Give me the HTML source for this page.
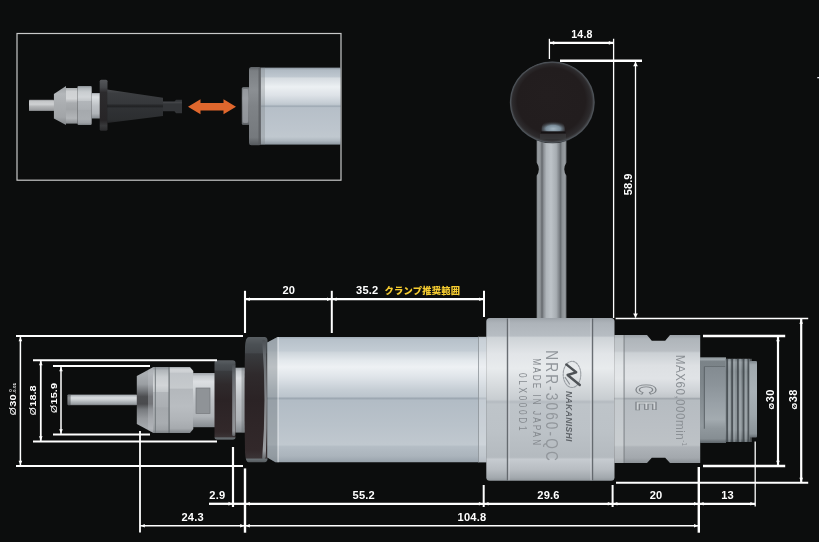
<!DOCTYPE html>
<html lang="ja"><head><meta charset="utf-8"><title>NRR-3060-QC</title>
<style>
html,body{margin:0;padding:0;background:#0c0d0d;overflow:hidden}
svg{display:block;will-change:transform}
text{font-family:"Liberation Sans","Noto Sans CJK JP",sans-serif}
</style></head><body>
<svg width="819" height="542" viewBox="0 0 819 542">
<defs>
<linearGradient id="gBody" x1="0" y1="0" x2="0" y2="1"><stop offset="0.0" stop-color="#a3adb7"/><stop offset="0.02" stop-color="#b7c1ca"/><stop offset="0.11" stop-color="#c3ccd4"/><stop offset="0.125" stop-color="#cfd6dc"/><stop offset="0.19" stop-color="#e4e9ed"/><stop offset="0.24" stop-color="#eef1f4"/><stop offset="0.32" stop-color="#dfe4e9"/><stop offset="0.42" stop-color="#c6ced5"/><stop offset="0.475" stop-color="#bcc5cd"/><stop offset="0.49" stop-color="#9ca7b1"/><stop offset="0.505" stop-color="#b2bcc5"/><stop offset="0.7" stop-color="#b9c2ca"/><stop offset="0.86" stop-color="#c0c8cf"/><stop offset="0.875" stop-color="#b4bdc5"/><stop offset="0.95" stop-color="#abb4bc"/><stop offset="1.0" stop-color="#98a2ab"/></linearGradient>
<linearGradient id="gBlock" x1="0" y1="0" x2="0" y2="1"><stop offset="0.0" stop-color="#9da3a9"/><stop offset="0.03" stop-color="#adb3b9"/><stop offset="0.11" stop-color="#b7bdc3"/><stop offset="0.12" stop-color="#ced3d7"/><stop offset="0.22" stop-color="#e2e5e8"/><stop offset="0.31" stop-color="#e8ebed"/><stop offset="0.42" stop-color="#d6dadd"/><stop offset="0.5" stop-color="#c8cdd1"/><stop offset="0.515" stop-color="#b4bac0"/><stop offset="0.53" stop-color="#bec4c9"/><stop offset="0.7" stop-color="#bcc2c7"/><stop offset="0.855" stop-color="#b4babf"/><stop offset="0.868" stop-color="#c6cbd0"/><stop offset="0.93" stop-color="#b8bdc2"/><stop offset="0.98" stop-color="#a3a9ae"/><stop offset="1.0" stop-color="#92989d"/></linearGradient>
<linearGradient id="gRear" x1="0" y1="0" x2="0" y2="1"><stop offset="0.0" stop-color="#9aa0a6"/><stop offset="0.03" stop-color="#afb5ba"/><stop offset="0.125" stop-color="#b9bec3"/><stop offset="0.14" stop-color="#cbd0d4"/><stop offset="0.24" stop-color="#dde0e3"/><stop offset="0.34" stop-color="#e0e3e6"/><stop offset="0.44" stop-color="#ced2d6"/><stop offset="0.485" stop-color="#c2c7cb"/><stop offset="0.497" stop-color="#a0a6ac"/><stop offset="0.51" stop-color="#b6bcc1"/><stop offset="0.7" stop-color="#babfc4"/><stop offset="0.86" stop-color="#bdc2c6"/><stop offset="0.875" stop-color="#aeb3b8"/><stop offset="0.96" stop-color="#a3a8ad"/><stop offset="1.0" stop-color="#8c9196"/></linearGradient>
<linearGradient id="gConn" x1="0" y1="0" x2="0" y2="1"><stop offset="0" stop-color="#8d959a"/><stop offset="0.025" stop-color="#9da5aa"/><stop offset="0.05" stop-color="#7b8388"/><stop offset="0.3" stop-color="#7e868b"/><stop offset="0.5" stop-color="#858d92"/><stop offset="0.8" stop-color="#929a9f"/><stop offset="0.95" stop-color="#868e93"/><stop offset="1" stop-color="#5e656a"/></linearGradient>
<linearGradient id="gThread" x1="0" y1="0" x2="0" y2="1"><stop offset="0" stop-color="#6e757a"/><stop offset="0.04" stop-color="#8b9398"/><stop offset="0.15" stop-color="#7a8287"/><stop offset="0.35" stop-color="#858d92"/><stop offset="0.55" stop-color="#8b9398"/><stop offset="0.85" stop-color="#8e969b"/><stop offset="0.96" stop-color="#747b80"/><stop offset="1" stop-color="#50575c"/></linearGradient>
<linearGradient id="gConnFlat" x1="0" y1="0" x2="0" y2="1"><stop offset="0" stop-color="#838b91"/><stop offset="0.3" stop-color="#8c949a"/><stop offset="0.6" stop-color="#99a1a7"/><stop offset="0.85" stop-color="#a3abb0"/><stop offset="1" stop-color="#8f979c"/></linearGradient>
<linearGradient id="gConnEnd" x1="0" y1="0" x2="0" y2="1"><stop offset="0" stop-color="#7d858a"/><stop offset="0.05" stop-color="#a1a9ae"/><stop offset="0.4" stop-color="#a9b1b6"/><stop offset="0.7" stop-color="#9ea6ab"/><stop offset="0.95" stop-color="#8b9398"/><stop offset="1" stop-color="#646b70"/></linearGradient>
<linearGradient id="gNut" x1="0" y1="0" x2="0" y2="1"><stop offset="0.0" stop-color="#8b9095"/><stop offset="0.05" stop-color="#b0b5b9"/><stop offset="0.15" stop-color="#c9cdd0"/><stop offset="0.28" stop-color="#d2d5d8"/><stop offset="0.38" stop-color="#c2c6c9"/><stop offset="0.385" stop-color="#b2b6ba"/><stop offset="0.6" stop-color="#abafb3"/><stop offset="0.62" stop-color="#a5a9ad"/><stop offset="0.85" stop-color="#a9adb1"/><stop offset="0.95" stop-color="#9da1a5"/><stop offset="1.0" stop-color="#7d8286"/></linearGradient>
<linearGradient id="gNutHex" x1="0" y1="0" x2="0" y2="1"><stop offset="0.0" stop-color="#9fa4a9"/><stop offset="0.03" stop-color="#d2d5d8"/><stop offset="0.08" stop-color="#cdd0d3"/><stop offset="0.09" stop-color="#c0c4c8"/><stop offset="0.32" stop-color="#c6cacd"/><stop offset="0.335" stop-color="#b4b8bc"/><stop offset="0.6" stop-color="#b9bdc1"/><stop offset="0.8" stop-color="#b0b4b8"/><stop offset="0.93" stop-color="#a6aaae"/><stop offset="1.0" stop-color="#80858a"/></linearGradient>
<linearGradient id="gCone" x1="0" y1="0" x2="0" y2="1"><stop offset="0.0" stop-color="#9a9ea2"/><stop offset="0.1" stop-color="#aaaeb2"/><stop offset="0.26" stop-color="#9b9fa3"/><stop offset="0.36" stop-color="#73767a"/><stop offset="0.45" stop-color="#4c4d50"/><stop offset="0.56" stop-color="#4a4b4e"/><stop offset="0.64" stop-color="#76797d"/><stop offset="0.78" stop-color="#96999d"/><stop offset="0.93" stop-color="#a6aaae"/><stop offset="1.0" stop-color="#8d9195"/></linearGradient>
<linearGradient id="gNeck" x1="0" y1="0" x2="0" y2="1"><stop offset="0.0" stop-color="#9ca1a6"/><stop offset="0.06" stop-color="#c6cace"/><stop offset="0.16" stop-color="#dcdfe2"/><stop offset="0.3" stop-color="#cfd3d6"/><stop offset="0.5" stop-color="#bdc1c5"/><stop offset="0.8" stop-color="#b0b4b8"/><stop offset="1.0" stop-color="#868b90"/></linearGradient>
<linearGradient id="gPin" x1="0" y1="0" x2="0" y2="1"><stop offset="0" stop-color="#7d8286"/><stop offset="0.1" stop-color="#b4b9bd"/><stop offset="0.3" stop-color="#d9dcdf"/><stop offset="0.5" stop-color="#c9cdd0"/><stop offset="0.7" stop-color="#adb2b6"/><stop offset="0.9" stop-color="#969b9f"/><stop offset="1" stop-color="#64686c"/></linearGradient>
<linearGradient id="gBlack" x1="0" y1="0" x2="0" y2="1"><stop offset="0" stop-color="#5a5f63"/><stop offset="0.06" stop-color="#4b5054"/><stop offset="0.125" stop-color="#44484c"/><stop offset="0.135" stop-color="#393b3e"/><stop offset="0.3" stop-color="#2f2a2c"/><stop offset="0.5" stop-color="#2b2325"/><stop offset="0.9" stop-color="#32282a"/><stop offset="0.965" stop-color="#3a3335"/><stop offset="0.975" stop-color="#697074"/><stop offset="1" stop-color="#565b5f"/></linearGradient>
<linearGradient id="gBlackEdge" x1="0" y1="0" x2="0" y2="1"><stop offset="0" stop-color="#4a4e52"/><stop offset="0.15" stop-color="#73787d"/><stop offset="0.4" stop-color="#8a8f94"/><stop offset="0.7" stop-color="#a0a5a9"/><stop offset="0.93" stop-color="#adb2b6"/><stop offset="1" stop-color="#6a6f73"/></linearGradient>
<linearGradient id="gShaft" x1="0" y1="0" x2="1" y2="0"><stop offset="0.0" stop-color="#6d7276"/><stop offset="0.04" stop-color="#969b9f"/><stop offset="0.12" stop-color="#8f9498"/><stop offset="0.18" stop-color="#64686c"/><stop offset="0.24" stop-color="#8d9297"/><stop offset="0.33" stop-color="#b0b6bb"/><stop offset="0.48" stop-color="#bdc3c8"/><stop offset="0.66" stop-color="#a7adb2"/><stop offset="0.75" stop-color="#82878c"/><stop offset="0.8" stop-color="#6c7175"/><stop offset="0.86" stop-color="#8b9094"/><stop offset="0.95" stop-color="#989da1"/><stop offset="1.0" stop-color="#63676b"/></linearGradient>
<linearGradient id="gShaftV" x1="0" y1="0" x2="0" y2="1"><stop offset="0" stop-color="#000"/><stop offset="1" stop-color="#fff"/></linearGradient>
<radialGradient id="gDome" cx="0.5" cy="0.75" r="0.7"><stop offset="0" stop-color="#a3b5c1"/><stop offset="0.45" stop-color="#7a8c99"/><stop offset="1" stop-color="#2a2a2d" stop-opacity="0"/></radialGradient>
<radialGradient id="gBall" cx="0.5" cy="0.5" r="0.5" fx="0.45" fy="0.4"><stop offset="0" stop-color="#231e1f"/><stop offset="0.8" stop-color="#221d1e"/><stop offset="0.93" stop-color="#2d2b2d"/><stop offset="0.98" stop-color="#4a4c4f"/><stop offset="1" stop-color="#2a2b2d"/></radialGradient>
<linearGradient id="giBody" x1="0" y1="0" x2="0" y2="1"><stop offset="0" stop-color="#8a949d"/><stop offset="0.03" stop-color="#b0bac3"/><stop offset="0.12" stop-color="#bfc8d0"/><stop offset="0.135" stop-color="#d5dbe0"/><stop offset="0.25" stop-color="#ecf0f3"/><stop offset="0.36" stop-color="#dde2e7"/><stop offset="0.46" stop-color="#c5cdd4"/><stop offset="0.485" stop-color="#bcc5cd"/><stop offset="0.5" stop-color="#9ba6b0"/><stop offset="0.52" stop-color="#b6bfc8"/><stop offset="0.8" stop-color="#bdc5cd"/><stop offset="0.9" stop-color="#c0c8cf"/><stop offset="0.95" stop-color="#aeb7bf"/><stop offset="1" stop-color="#8c969f"/></linearGradient>
<linearGradient id="giNutCone" x1="0" y1="0" x2="0" y2="1"><stop offset="0" stop-color="#9b9fa2"/><stop offset="0.2" stop-color="#b4b7ba"/><stop offset="0.5" stop-color="#a9acaf"/><stop offset="0.8" stop-color="#a2a5a8"/><stop offset="1" stop-color="#85888b"/></linearGradient>
<linearGradient id="giNutMid" x1="0" y1="0" x2="0" y2="1"><stop offset="0" stop-color="#a9acaf"/><stop offset="0.1" stop-color="#cfd1d3"/><stop offset="0.3" stop-color="#d3d5d7"/><stop offset="0.42" stop-color="#a9acaf"/><stop offset="0.6" stop-color="#a2a5a8"/><stop offset="0.85" stop-color="#b2b5b8"/><stop offset="1" stop-color="#8a8d90"/></linearGradient>
<linearGradient id="giPin" x1="0" y1="0" x2="0" y2="1"><stop offset="0" stop-color="#8e9194"/><stop offset="0.12" stop-color="#c3c5c7"/><stop offset="0.4" stop-color="#cfd1d3"/><stop offset="0.6" stop-color="#b3b5b7"/><stop offset="0.9" stop-color="#9b9da0"/><stop offset="1" stop-color="#707375"/></linearGradient>
<linearGradient id="giFl" x1="0" y1="0" x2="0" y2="1"><stop offset="0" stop-color="#55575a"/><stop offset="0.15" stop-color="#45474a"/><stop offset="0.25" stop-color="#2c2b2d"/><stop offset="0.8" stop-color="#272527"/><stop offset="0.9" stop-color="#38393b"/><stop offset="1" stop-color="#2a2a2c"/></linearGradient>
<linearGradient id="giRing" x1="0" y1="0" x2="0" y2="1"><stop offset="0.0" stop-color="#5d6165"/><stop offset="0.05" stop-color="#7b7f83"/><stop offset="0.3" stop-color="#8b8f93"/><stop offset="0.5" stop-color="#7f8387"/><stop offset="0.9" stop-color="#75797d"/><stop offset="1.0" stop-color="#55595d"/></linearGradient>
<linearGradient id="giConeBlk" x1="0" y1="0" x2="0" y2="1"><stop offset="0" stop-color="#4a4c4f"/><stop offset="0.12" stop-color="#3b3d40"/><stop offset="0.42" stop-color="#36383b"/><stop offset="0.5" stop-color="#202123"/><stop offset="0.56" stop-color="#303235"/><stop offset="0.9" stop-color="#2c2e30"/><stop offset="1" stop-color="#232426"/></linearGradient>
</defs>
<g id="inset">
<rect x="17" y="33.5" width="324" height="146.7" fill="none" stroke="#c9c9c9" stroke-width="1.2"/>
<rect x="29" y="99.7" width="25" height="11.4" rx=".6" fill="url(#giPin)"/>
<polygon points="53.9,93.9 66,86.1 66,124.9 53.9,118.4" fill="url(#giNutCone)"/>
<rect x="66" y="88" width="11.5" height="35.6" fill="url(#giNutMid)"/>
<rect x="77.5" y="86.1" width="14.2" height="38.800" rx=".8" fill="url(#gNut)"/>
<rect x="91.7" y="93" width="8.5" height="25.5" fill="url(#gNeck)"/>
<rect x="99.7" y="79.7" width="7.800" height="51" rx="1.5" fill="url(#giFl)"/>
<polygon points="107.2,89.4 163,97.8 163,115.9 107.2,123" fill="url(#giConeBlk)"/>
<path d="M163,101.6 h11.5 l1.5,-1.900 h6 v13.600 h-6 l-1.5,-2 h-11.500 z" fill="#333538"/>
<rect x="163" y="101.6" width="19" height="1.800" fill="#4a4c4f" opacity=".7"/>
<polygon points="188,106.7 200.5,99.2 200.500,103 223.5,103 223.500,99.2 236,106.7 223.5,114.2 223.500,110.4 200.5,110.4 200.500,114.2" fill="#e0672d"/>
<rect x="241.8" y="87" width="8" height="38" rx="1.5" fill="url(#giRing)"/>
<rect x="243" y="89" width="5" height="34" rx="1" fill="#a8acb0" opacity=".55"/>
<rect x="249" y="66.9" width="12.5" height="78.3" rx="2.5" fill="url(#giRing)"/>
<rect x="258.5" y="67.5" width="2.2" height="77" fill="#55595d" opacity=".7"/>
<rect x="261" y="67.6" width="79.5" height="77" fill="url(#giBody)"/>
<rect x="261" y="67.6" width="4" height="77" fill="#7d8388" opacity=".35"/>
</g>
<g id="handle">
<path d="M536.6,140 H566.5 V162.5 q-4.5,6.6 0,13.300 V319 H536.6 V175.800 q4.5,-6.6 0,-13.300 Z" fill="url(#gShaft)"/>

<ellipse cx="552.3" cy="102.3" rx="42.6" ry="41" fill="url(#gBall)"/>
<ellipse cx="552.3" cy="102.3" rx="41.800" ry="40.2" fill="none" stroke="#55606a" stroke-width="1.2" opacity=".4"/>
<path d="M541.6,131.6 V129 q0,-8.5 11.6,-8.500 q11.6,0 11.6,8.5 V131.6 Z" fill="url(#gDome)"/>
<rect x="541" y="131.6" width="24.5" height="1.6" fill="#151314"/>
<rect x="540" y="134" width="26" height="5.5" fill="#45474a" opacity=".45"/>
</g>
<g id="spindle">
<rect x="67.6" y="394.5" width="69.5" height="10.800" rx="0.8" fill="url(#gPin)"/>
<rect x="67.6" y="394.5" width="3" height="10.800" rx=".8" fill="#3c3e40" opacity=".5"/>
<polygon points="136.800,375.9 153.5,367 153.5,433 136.800,424.1" fill="url(#gCone)"/><polygon points="148,370 153.5,367 153.5,433 148,430" fill="#c3c7cb" opacity=".35"/>
<rect x="153" y="367" width="16" height="66" fill="url(#gNut)"/>
<path d="M169,367 H190 L193.3,371 V429 L190,433 H169 Z" fill="url(#gNutHex)"/>
<rect x="154.800" y="367" width="1.1" height="66" fill="#6f7479" opacity=".85"/>
<rect x="168.500" y="367" width="1.2" height="66" fill="#63686d" opacity=".9"/>
<rect x="193" y="373" width="22" height="54.2" fill="url(#gNeck)"/>
<rect x="196" y="388" width="14" height="25.4" fill="#8f9397"/>
<rect x="196" y="388" width="14" height="25.4" fill="none" stroke="#74787c" stroke-width=".7"/>
<rect x="235" y="367.7" width="10.5" height="64.9" fill="url(#gNeck)"/>
<rect x="241.5" y="367.7" width="3" height="64.9" fill="#5d6165" opacity=".35"/>
<rect x="214.5" y="360.3" width="21" height="79.5" rx="2.8" fill="url(#gBlack)"/>
<rect x="232.2" y="364" width="3" height="72" rx="1.2" fill="url(#gBlackEdge)" opacity=".8"/>
<path d="M248.5,337 H264.5 Q267.5,337 267.6,341 V458.300 Q267.5,462.3 264.5,462.3 H248.5 Q245.5,462.3 245,452 L244.5,420 V380 L245,347 Q245.5,337 248.5,337 Z" fill="url(#gBlack)"/>
<path d="M262.2,340.5 q4.500,59 0,118 q2.200,2 3.600,-1.500 q2.200,-57.5 0,-115 q-1.400,-3.500 -3.600,-1.500 Z" fill="url(#gBlackEdge)" opacity=".85"/>
<path d="M267.3,342.5 L277.5,337 H486.5 V462.3 H275.5 L267.3,457.5 Z" fill="url(#gBody)"/>
<path d="M267.3,342.5 L277.5,337 V462.3 H275.5 L267.3,457.5 Z" fill="#6f757b" opacity=".4"/>
<rect x="277.5" y="337" width="1.2" height="125.300" fill="#f4f6f7" opacity=".55"/>
<rect x="478" y="336.5" width="1" height="126" fill="#8d9399" opacity=".8"/>
<rect x="479" y="336.5" width="7.5" height="126" fill="#e9ecee" opacity=".35"/>
<rect x="486.3" y="318" width="128.2" height="162.800" rx="3.5" fill="url(#gBlock)"/>
<rect x="506.800" y="318.5" width="1.5" height="161.800" fill="#5c6166" opacity=".9"/>
<rect x="508.2" y="318.5" width="1.3" height="161.800" fill="#f2f4f5" opacity=".35"/>
<rect x="591.7" y="318.5" width="1.5" height="161.800" fill="#5c6166" opacity=".9"/>
<rect x="590.5" y="318.5" width="1.3" height="161.800" fill="#f2f4f5" opacity=".35"/>
<path d="M614.3,335 H647 L651.800,340.800 H665.2 L670,335 H700.2 V463 H670 L665.2,457.8 H651.800 L647,463 H614.3 Z" fill="url(#gRear)"/>
<rect x="623.5" y="335" width="1.1" height="128" fill="#767b80" opacity=".85"/>
<rect x="614.3" y="335" width="9.2" height="128" fill="#f0f2f3" opacity=".25"/>
<rect x="700" y="357.3" width="26" height="85.7" fill="url(#gConn)"/>
<rect x="704.4" y="366.6" width="21.2" height="62.1" fill="url(#gConnFlat)"/>
<rect x="703.800" y="366.6" width="1.2" height="62.1" fill="#596065" opacity=".8"/>
<rect x="704.4" y="366" width="21.2" height="1" fill="#5f666b" opacity=".7"/>
<rect x="725.5" y="358.800" width="24.5" height="83.2" fill="url(#gThread)"/>
<rect x="726.2" y="358.800" width="1.8" height="83.2" fill="#3f454a" opacity=".8"/>
<rect x="728.4000000000001" y="358.800" width="2" height="83.2" fill="#b4bcc1" opacity=".4"/>
<rect x="731.2" y="358.800" width="1.8" height="83.2" fill="#3f454a" opacity=".8"/>
<rect x="733.4000000000001" y="358.800" width="2" height="83.2" fill="#b4bcc1" opacity=".4"/>
<rect x="737" y="358.800" width="1.8" height="83.2" fill="#3f454a" opacity=".8"/>
<rect x="739.2" y="358.800" width="2" height="83.2" fill="#b4bcc1" opacity=".4"/>
<rect x="742.6" y="358.800" width="1.8" height="83.2" fill="#3f454a" opacity=".8"/>
<rect x="744.8000000000001" y="358.800" width="2" height="83.2" fill="#b4bcc1" opacity=".4"/>
<rect x="747.6" y="358.800" width="1.8" height="83.2" fill="#3f454a" opacity=".8"/>
<rect x="749.8000000000001" y="358.800" width="2" height="83.2" fill="#b4bcc1" opacity=".4"/>
<rect x="749.5" y="361" width="7.5" height="76.6" rx="1" fill="url(#gConnEnd)"/>
</g>
<g>
<text transform="translate(545.6,350.3) rotate(90) scale(.8,1)" font-size="17" fill="#92979c" textLength="138" lengthAdjust="spacing">NRR-3060-QC</text>
<text transform="translate(532.8,358.3) rotate(90) scale(.72,1)" font-size="11.4" fill="#858a8f" textLength="120.5" lengthAdjust="spacing">MADE IN JAPAN</text>
<text transform="translate(519.2,373) rotate(90) scale(.8,1)" font-size="10.4" fill="#858a8f" textLength="72" lengthAdjust="spacing">0LX000D1</text>
<text transform="translate(565.8,391) rotate(90)" font-size="8.6" font-style="italic" font-weight="bold" fill="#5f6469" textLength="50.5" lengthAdjust="spacing">NAKANISHI</text>
<text transform="translate(676.3,354.8) rotate(90) scale(.9,1)" font-size="13" fill="#8b9095" letter-spacing=".5">MAX60,000min<tspan font-size="6.5" dy="-5.500">-1</tspan></text>
<text transform="translate(636.2,384.2) rotate(90) scale(.48,1)" font-size="30" font-weight="bold" fill="#cfd3d6" stroke="#7f8489" stroke-width="1.300" letter-spacing="13.5">CE</text>
</g>
<g fill="none" stroke-linecap="round" stroke-linejoin="round"><ellipse cx="572" cy="374.4" rx="8.800" ry="13.1" stroke="#9a9fa4" stroke-width="1.1" stroke-dasharray="2.2 1.1"/><polyline points="566.3,364.4 576.2,372.3 567.6,375 579.800,385" stroke="#4f5357" stroke-width="2.4"/><polyline points="565.2,377.5 569.500,384" stroke="#8a8f94" stroke-width="1.2"/></g>
<rect x="817.3" y="77" width="1.7" height="1.300" fill="#e8e8f0"/>
<g id="dims" style="opacity:.999">
<line x1="16" y1="336" x2="243" y2="336" stroke="#fff" stroke-width="2.2"/>
<line x1="16" y1="466" x2="243" y2="466" stroke="#fff" stroke-width="2.2"/>
<line x1="33" y1="360.2" x2="217" y2="360.2" stroke="#fff" stroke-width="2"/>
<line x1="33" y1="441.4" x2="217" y2="441.4" stroke="#fff" stroke-width="2"/>
<line x1="53" y1="366" x2="150" y2="366" stroke="#fff" stroke-width="2"/>
<line x1="53" y1="434.6" x2="150" y2="434.6" stroke="#fff" stroke-width="2"/>
<line x1="140" y1="431" x2="140" y2="532.5" stroke="#fff" stroke-width="1.8"/>
<line x1="233" y1="447" x2="233" y2="507" stroke="#fff" stroke-width="2.2"/>
<line x1="245" y1="468.4" x2="245" y2="532.7" stroke="#fff" stroke-width="2.4"/>
<line x1="245" y1="290.8" x2="245" y2="333" stroke="#fff" stroke-width="2.1"/>
<line x1="331.8" y1="290.8" x2="331.8" y2="333" stroke="#fff" stroke-width="2"/>
<line x1="484" y1="290.8" x2="484" y2="317" stroke="#fff" stroke-width="2"/>
<line x1="483.7" y1="485" x2="483.7" y2="507" stroke="#fff" stroke-width="2"/>
<line x1="612.6" y1="485" x2="612.6" y2="507" stroke="#fff" stroke-width="2"/>
<line x1="698.8" y1="467" x2="698.8" y2="532.7" stroke="#fff" stroke-width="2.4"/>
<line x1="755.2" y1="441.5" x2="755.2" y2="506.6" stroke="#fff" stroke-width="1.3"/>
<line x1="615.6" y1="318.6" x2="808.2" y2="318.6" stroke="#fff" stroke-width="1.5"/>
<line x1="616" y1="482.7" x2="808.2" y2="482.7" stroke="#fff" stroke-width="2"/>
<line x1="703" y1="336" x2="785.2" y2="336" stroke="#fff" stroke-width="2.4"/>
<line x1="703" y1="466" x2="785.2" y2="466" stroke="#fff" stroke-width="2.4"/>
<line x1="549.4" y1="38.8" x2="549.4" y2="59" stroke="#fff" stroke-width="1.3"/>
<line x1="613.6" y1="38.8" x2="613.6" y2="318" stroke="#fff" stroke-width="1.3"/>
<line x1="560" y1="60.7" x2="642" y2="60.7" stroke="#fff" stroke-width="2.4"/>
<line x1="20.4" y1="336.5" x2="20.4" y2="465.5" stroke="#fff" stroke-width="1.5"/>
<polygon points="20.4,337.1 18.599999999999998,341.3 22.2,341.3" fill="#fff"/>
<polygon points="20.4,464.9 18.599999999999998,460.7 22.2,460.7" fill="#fff"/>
<line x1="40.8" y1="360.5" x2="40.8" y2="441" stroke="#fff" stroke-width="1.8"/>
<polygon points="40.8,361.1 39.0,365.3 42.599999999999994,365.3" fill="#fff"/>
<polygon points="40.8,440.4 39.0,436.2 42.599999999999994,436.2" fill="#fff"/>
<line x1="61" y1="366.5" x2="61" y2="434" stroke="#fff" stroke-width="1.5"/>
<polygon points="61,367.1 59.2,371.3 62.8,371.3" fill="#fff"/>
<polygon points="61,433.4 59.2,429.2 62.8,429.2" fill="#fff"/>
<line x1="140" y1="525.8" x2="245" y2="525.8" stroke="#fff" stroke-width="1.4"/>
<polygon points="140.6,525.8 144.79999999999998,524.0 144.79999999999998,527.5999999999999" fill="#fff"/>
<polygon points="244.4,525.8 240.20000000000002,524.0 240.20000000000002,527.5999999999999" fill="#fff"/>
<line x1="209" y1="503.8" x2="233" y2="503.8" stroke="#fff" stroke-width="2.3"/>
<polygon points="232,503.8 228.5,501.8 228.5,505.8" fill="#fff"/>
<line x1="233" y1="503.8" x2="245" y2="503.8" stroke="#fff" stroke-width="2.3"/>
<line x1="245" y1="503.8" x2="483.7" y2="503.8" stroke="#fff" stroke-width="2.3"/>
<polygon points="245.6,503.8 249.79999999999998,502.0 249.79999999999998,505.6" fill="#fff"/>
<polygon points="483.09999999999997,503.8 478.9,502.0 478.9,505.6" fill="#fff"/>
<line x1="483.7" y1="503.8" x2="612.6" y2="503.8" stroke="#fff" stroke-width="2.3"/>
<polygon points="484.3,503.8 488.5,502.0 488.5,505.6" fill="#fff"/>
<polygon points="612.0,503.8 607.8,502.0 607.8,505.6" fill="#fff"/>
<line x1="612.6" y1="503.8" x2="698.8" y2="503.8" stroke="#fff" stroke-width="2.3"/>
<polygon points="613.2,503.8 617.4000000000001,502.0 617.4000000000001,505.6" fill="#fff"/>
<polygon points="698.1999999999999,503.8 693.9999999999999,502.0 693.9999999999999,505.6" fill="#fff"/>
<line x1="698.8" y1="503.8" x2="755.2" y2="503.8" stroke="#fff" stroke-width="2.3"/>
<polygon points="699.4,503.8 703.6,502.0 703.6,505.6" fill="#fff"/>
<polygon points="754.6,503.8 750.4,502.0 750.4,505.6" fill="#fff"/>
<line x1="245" y1="525.8" x2="698.8" y2="525.8" stroke="#fff" stroke-width="1.4"/>
<polygon points="245.6,525.8 249.79999999999998,524.0 249.79999999999998,527.5999999999999" fill="#fff"/>
<polygon points="698.1999999999999,525.8 693.9999999999999,524.0 693.9999999999999,527.5999999999999" fill="#fff"/>
<line x1="245" y1="299.2" x2="331.8" y2="299.2" stroke="#fff" stroke-width="2.3"/>
<polygon points="245.6,299.2 249.79999999999998,297.4 249.79999999999998,301.0" fill="#fff"/>
<polygon points="331.2,299.2 327.0,297.4 327.0,301.0" fill="#fff"/>
<line x1="331.8" y1="299.2" x2="484" y2="299.2" stroke="#fff" stroke-width="2.3"/>
<polygon points="332.40000000000003,299.2 336.6,297.4 336.6,301.0" fill="#fff"/>
<polygon points="483.4,299.2 479.2,297.4 479.2,301.0" fill="#fff"/>
<line x1="549.4" y1="42.9" x2="613.6" y2="42.9" stroke="#fff" stroke-width="2.4"/>
<polygon points="550.0,42.9 554.2,41.1 554.2,44.699999999999996" fill="#fff"/>
<polygon points="613.0,42.9 608.8,41.1 608.8,44.699999999999996" fill="#fff"/>
<line x1="635.5" y1="62" x2="635.5" y2="317.5" stroke="#fff" stroke-width="1.3"/>
<polygon points="635.5,61.8 633.2,66.3 637.8,66.3" fill="#fff"/>
<polygon points="635.5,318 633.2,313.5 637.8,313.5" fill="#fff"/>
<line x1="778" y1="336.5" x2="778" y2="465.5" stroke="#fff" stroke-width="2.2"/>
<polygon points="778,337.1 776.2,341.3 779.8,341.3" fill="#fff"/>
<polygon points="778,464.9 776.2,460.7 779.8,460.7" fill="#fff"/>
<line x1="801.2" y1="319" x2="801.2" y2="482.5" stroke="#fff" stroke-width="2.2"/>
<polygon points="801.2,319.6 799.4000000000001,323.8 803.0,323.8" fill="#fff"/>
<polygon points="801.2,481.9 799.4000000000001,477.7 803.0,477.7" fill="#fff"/>
<text x="217.3" y="499" font-size="11.1" text-anchor="middle" fill="#fff" font-weight="bold" letter-spacing=".2">2.9</text>
<text x="192.7" y="521" font-size="11.1" text-anchor="middle" fill="#fff" font-weight="bold" letter-spacing=".2">24.3</text>
<text x="363.8" y="498.6" font-size="11.1" text-anchor="middle" fill="#fff" font-weight="bold" letter-spacing=".2">55.2</text>
<text x="548.5" y="498.6" font-size="11.1" text-anchor="middle" fill="#fff" font-weight="bold" letter-spacing=".2">29.6</text>
<text x="656" y="499" font-size="11.1" text-anchor="middle" fill="#fff" font-weight="bold" letter-spacing=".2">20</text>
<text x="727.5" y="499" font-size="11.1" text-anchor="middle" fill="#fff" font-weight="bold" letter-spacing=".2">13</text>
<text x="472" y="521" font-size="11.1" text-anchor="middle" fill="#fff" font-weight="bold" letter-spacing=".2">104.8</text>
<text x="288.8" y="294" font-size="11.1" text-anchor="middle" fill="#fff" font-weight="bold" letter-spacing=".2">20</text>
<text x="367.3" y="294" font-size="11.1" text-anchor="middle" fill="#fff" font-weight="bold" letter-spacing=".2">35.2</text>
<text x="384.5" y="294.3" font-size="9.3" text-anchor="start" fill="#f6cc30" font-weight="900" letter-spacing=".2">クランプ推奨範囲</text>
<text x="582" y="37.8" font-size="10.6" text-anchor="middle" fill="#fff" font-weight="bold" letter-spacing=".2">14.8</text>
<text transform="translate(631.6,184.4) rotate(-90)" font-size="11.1" text-anchor="middle" fill="#fff" font-weight="bold">58.9</text>
<text transform="translate(15.5,415.3) rotate(-90) scale(1,0.88)" font-size="11" fill="#fff" font-weight="bold"><tspan font-weight="normal" font-size="10.3">Ø</tspan><tspan dx=".6" letter-spacing="0">30</tspan><tspan font-size="4.6" dy="-4.1" dx="2.6">0</tspan><tspan font-size="4.6" dy="4.9" dx="-4.2">-0.01</tspan></text>
<text transform="translate(36,415.3) rotate(-90) scale(1,0.88)" font-size="11" fill="#fff" font-weight="bold"><tspan font-weight="normal" font-size="10.3">Ø</tspan><tspan dx=".6" letter-spacing="0">18.8</tspan></text>
<text transform="translate(56.5,413) rotate(-90) scale(1,0.88)" font-size="11" fill="#fff" font-weight="bold"><tspan font-weight="normal" font-size="10.3">Ø</tspan><tspan dx=".6" letter-spacing="0">15.9</tspan></text>
<text transform="translate(773.6,409.5) rotate(-90) scale(1,0.93)" font-size="11" fill="#fff" font-weight="bold"><tspan font-weight="bold" font-size="8.6">Ø</tspan><tspan dx=".6" letter-spacing="0.3">30</tspan></text>
<text transform="translate(797.2,409.5) rotate(-90) scale(1,0.93)" font-size="11" fill="#fff" font-weight="bold"><tspan font-weight="bold" font-size="8.6">Ø</tspan><tspan dx=".6" letter-spacing="0.3">38</tspan></text>
</g>
</svg>
</body></html>
